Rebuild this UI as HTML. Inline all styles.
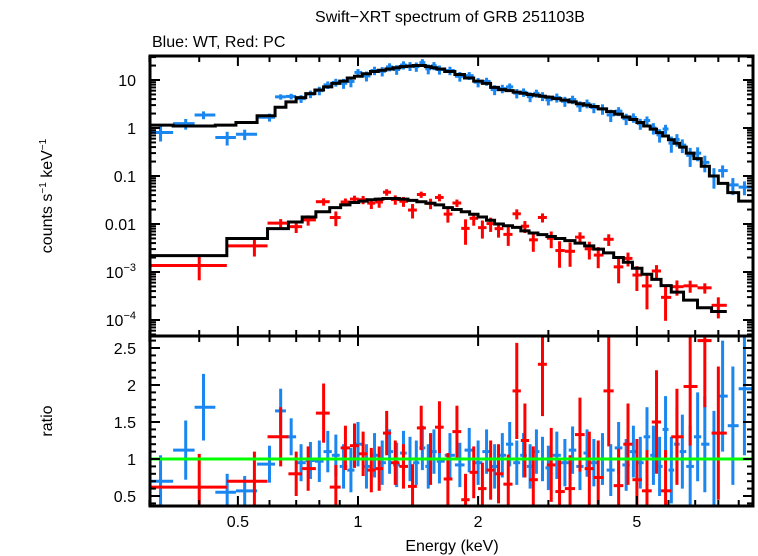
<!DOCTYPE html>
<html><head><meta charset="utf-8"><style>
body{margin:0;background:#fff;}
svg{display:block;font-family:"Liberation Sans",sans-serif;}
</style></head><body>
<svg id="chart" width="758" height="556" viewBox="0 0 758 556" xmlns="http://www.w3.org/2000/svg">
<text x="450" y="22" font-size="16" text-anchor="middle">Swift−XRT spectrum of GRB 251103B</text>
<text x="152" y="47" font-size="16">Blue: WT, Red: PC</text>
<text transform="translate(52,196) rotate(-90)" font-size="16" text-anchor="middle">counts s<tspan dy="-6" font-size="10">−1</tspan><tspan dy="6"> keV</tspan><tspan dy="-6" font-size="10">−1</tspan></text>
<text transform="translate(52,421) rotate(-90)" font-size="16" text-anchor="middle">ratio</text>
<text x="452" y="551" font-size="16" text-anchor="middle">Energy (keV)</text>
<g id="topP"></g>
<g id="botP"></g>
<g id="axes"></g>
</svg>
<script>
const wtEnergy=[0.32,0.37,0.41,0.47,0.52,0.6,0.64,0.68,0.72,0.76,0.8,0.84,0.88,0.92,0.96,1.0,1.05,1.1,1.15,1.2,1.25,1.3,1.35,1.4,1.45,1.5,1.55,1.6,1.7,1.8,1.9,2.0,2.1,2.2,2.3,2.4,2.5,2.6,2.7,2.8,2.9,3.0,3.15,3.3,3.45,3.6,3.75,3.9,4.1,4.3,4.5,4.7,4.9,5.1,5.3,5.5,5.7,5.9,6.1,6.3,6.5,6.8,7.1,7.4,7.8,8.2,8.7,9.3];
const wtModel=[1.15,1.1,1.1,1.15,1.3,1.8,2.7,3.5,4.3,5.2,6.2,7.2,8.5,9.5,11,12,13.5,15,16,17,18,19,19.5,20,20,19,18,17,15,13,11,9.5,8.5,7,6.3,6,5.6,5.3,5.0,4.8,4.6,4.4,4.1,3.8,3.5,3.2,3.0,2.8,2.5,2.2,1.95,1.7,1.5,1.3,1.1,0.95,0.8,0.68,0.57,0.48,0.4,0.3,0.23,0.16,0.1,0.07,0.045,0.03];
const wtRatio=[0.7,1.12,1.7,0.55,0.57,0.93,1.65,1.3,0.95,0.98,0.97,1.1,1.05,0.9,0.85,1.2,0.9,1.05,0.95,1.1,0.92,1.08,1.0,0.95,1.15,0.9,1.1,0.97,1.05,0.92,1.12,0.95,1.1,0.9,1.05,1.2,0.95,1.05,0.9,1.1,1.0,0.88,1.05,0.95,1.12,0.9,1.08,0.95,1.0,0.85,1.15,0.92,1.1,0.95,1.3,1.05,0.9,1.4,0.85,1.2,1.1,0.9,1.3,1.2,1.0,1.85,1.45,1.95];
const wtErr=[0.35,0.4,0.45,0.25,0.2,0.25,0.3,0.25,0.25,0.25,0.28,0.28,0.28,0.3,0.3,0.3,0.3,0.3,0.3,0.3,0.3,0.3,0.3,0.3,0.3,0.3,0.3,0.3,0.3,0.3,0.3,0.3,0.3,0.3,0.3,0.3,0.3,0.3,0.3,0.3,0.3,0.3,0.32,0.32,0.32,0.32,0.32,0.32,0.35,0.35,0.35,0.35,0.35,0.35,0.4,0.4,0.4,0.45,0.45,0.5,0.5,0.55,0.6,0.65,0.65,0.75,0.8,0.9];
const pcEnergy=[0.4,0.55,0.64,0.7,0.75,0.82,0.88,0.93,0.98,1.03,1.08,1.13,1.18,1.24,1.3,1.37,1.44,1.52,1.6,1.68,1.77,1.86,1.95,2.05,2.15,2.25,2.38,2.5,2.62,2.75,2.9,3.05,3.2,3.4,3.6,3.8,4.0,4.25,4.5,4.75,5.0,5.3,5.6,5.9,6.3,6.8,7.4,8.0];
const pcModel=[0.0022,0.005,0.008,0.011,0.014,0.018,0.022,0.025,0.028,0.030,0.032,0.033,0.034,0.034,0.033,0.031,0.029,0.027,0.025,0.022,0.020,0.018,0.016,0.014,0.012,0.0100,0.0092,0.0085,0.0072,0.0065,0.006,0.0055,0.005,0.0045,0.004,0.0035,0.003,0.0025,0.002,0.0016,0.0012,0.0009,0.0007,0.00052,0.00038,0.00026,0.00018,0.00015];
const pcRatio=[0.62,0.7,1.3,0.8,0.87,1.62,0.62,1.15,1.18,1.07,0.85,0.87,1.35,0.95,0.9,0.63,1.42,1.0,1.43,0.73,1.37,0.45,0.82,0.6,0.85,0.8,0.66,1.92,1.25,0.72,2.28,0.92,0.56,0.6,1.33,0.87,0.75,1.92,0.64,1.2,0.72,0.57,1.5,0.57,1.3,1.98,2.6,1.35];
const pcErr=[0.45,0.4,0.4,0.3,0.3,0.4,0.3,0.3,0.3,0.3,0.3,0.3,0.3,0.3,0.3,0.3,0.3,0.35,0.35,0.35,0.35,0.35,0.35,0.35,0.4,0.4,0.4,0.65,0.5,0.45,0.7,0.5,0.45,0.45,0.5,0.5,0.5,0.75,0.5,0.55,0.55,0.55,0.7,0.55,0.65,0.8,0.9,0.9];
const ratioTicks=[0.5,1,1.5,2,2.5];
const xMajor=[0.5,1,2,5];
const topLabels=[[10,"10"],[1,"1"],[0.1,"0.1"],[0.01,"0.01"]];

const L=150,R=753,T=56,M=336,B=506;
const X=e=>358+399*Math.log10(e);
const YT=v=>128-48*Math.log10(v);
const YR=r=>496-74*(r-0.5);
const NS="http://www.w3.org/2000/svg";
function mk(tag,attrs,parent){const el=document.createElementNS(NS,tag);for(const k in attrs)el.setAttribute(k,attrs[k]);parent.appendChild(el);return el;}
const topG=document.getElementById('topP'),botG=document.getElementById('botP'),axG=document.getElementById('axes');
const clipD=mk('defs',{},document.getElementById('chart'));
const c1=mk('clipPath',{id:'c1'},clipD);mk('rect',{x:L,y:T,width:R-L,height:M-T},c1);
const c2=mk('clipPath',{id:'c2'},clipD);mk('rect',{x:L,y:M,width:R-L,height:B-M},c2);
topG.setAttribute('clip-path','url(#c1)');botG.setAttribute('clip-path','url(#c2)');

function edges(E,first,last){const lo=[],hi=[];for(let i=0;i<E.length;i++){lo.push(i==0?first:Math.sqrt(E[i-1]*E[i]));hi.push(i==E.length-1?last:Math.sqrt(E[i]*E[i+1]));}return [lo,hi];}
function series(E,mod,rat,err,first,last,color,name){
  const [lo,hi]=edges(E,first,last);
  for(let i=0;i<E.length;i++){
    const v=mod[i]*rat[i],ev=mod[i]*err[i]*0.7;
    const g=mk('g',{stroke:color,'stroke-width':3},topG);
    
    
    mk('line',{x1:X(lo[i]),x2:X(hi[i]),y1:YT(v),y2:YT(v)},g);
    mk('line',{x1:X(E[i]),x2:X(E[i]),y1:YT(v+ev),y2:YT(Math.max(v-ev,1e-6))},g);
    const h=mk('g',{stroke:color,'stroke-width':3},botG);
    
    
    mk('line',{x1:X(lo[i]),x2:X(hi[i]),y1:YR(rat[i]),y2:YR(rat[i])},h);
    mk('line',{x1:X(E[i]),x2:X(E[i]),y1:YR(rat[i]+err[i]),y2:YR(rat[i]-err[i])},h);
  }
  let d='';
  for(let i=0;i<E.length;i++){d+=(i?'L':'M')+X(lo[i])+','+YT(mod[i])+'L'+X(hi[i])+','+YT(mod[i]);}
  const p=mk('path',{d:d,fill:'none',stroke:'#000','stroke-width':3},topG);
  
  
}
series(wtEnergy,wtModel,wtRatio,wtErr,0.3,9.9,'#1a86f0','wt');
series(pcEnergy,pcModel,pcRatio,pcErr,0.3,8.4,'#ff0000','pc');
const gl=mk('line',{x1:L,x2:R,y1:YR(1),y2:YR(1),stroke:'#00ff00','stroke-width':3},botG);



for(const [y1,y2] of [[T,M],[M,B]]){const f=mk('rect',{x:L,y:y1,width:R-L,height:y2-y1,fill:'none',stroke:'#000','stroke-width':3},axG);

}
const xs=[0.3,0.4,0.5,0.6,0.7,0.8,0.9,1,2,3,4,5,6,7,8,9];
for(const e of xs){const maj=xMajor.includes(e)||e==1;const len=maj?10:6;const x=X(e);
  for(const [y,dir] of [[T,1],[M,-1],[M,1],[B,-1]]) mk('line',{x1:x,x2:x,y1:y,y2:y+dir*len,stroke:'#000','stroke-width':2},axG);}
for(const e of xMajor){const t=mk('text',{x:X(e),y:527,'font-size':16,'text-anchor':'middle'},axG);t.textContent=String(e);

}
{const t=mk('text',{x:X(1),y:527,'font-size':16,'text-anchor':'middle'},axG);t.textContent="1";

}
for(let d=-5;d<=1;d++)for(let m=1;m<=9;m++){const v=m*Math.pow(10,d);const y=YT(v);if(y<T||y>M)continue;const len=m==1?10:6;
  mk('line',{x1:L,x2:L+len,y1:y,y2:y,stroke:'#000','stroke-width':2},axG);mk('line',{x1:R,x2:R-len,y1:y,y2:y,stroke:'#000','stroke-width':2},axG);}
for(const [v,s] of topLabels){const t=mk('text',{x:136,y:YT(v)+6,'font-size':16,'text-anchor':'end'},axG);t.textContent=s;

}
for(const [v,p] of [[1e-3,'−3'],[1e-4,'−4']]){const t=mk('text',{x:136,y:YT(v)+6,'font-size':16,'text-anchor':'end'},axG);


t.innerHTML='10<tspan dy="-7" font-size="11">'+p+'</tspan>';}
for(let k=4;k<=26;k++){const r=k/10;const y=YR(r);if(y<M||y>B)continue;const len=(k%5==0)?10:6;
  mk('line',{x1:L,x2:L+len,y1:y,y2:y,stroke:'#000','stroke-width':2},axG);mk('line',{x1:R,x2:R-len,y1:y,y2:y,stroke:'#000','stroke-width':2},axG);}
for(const r of ratioTicks){const t=mk('text',{x:136,y:YR(r)+6,'font-size':16,'text-anchor':'end'},axG);t.textContent=String(r);

}
</script>
</body></html>
